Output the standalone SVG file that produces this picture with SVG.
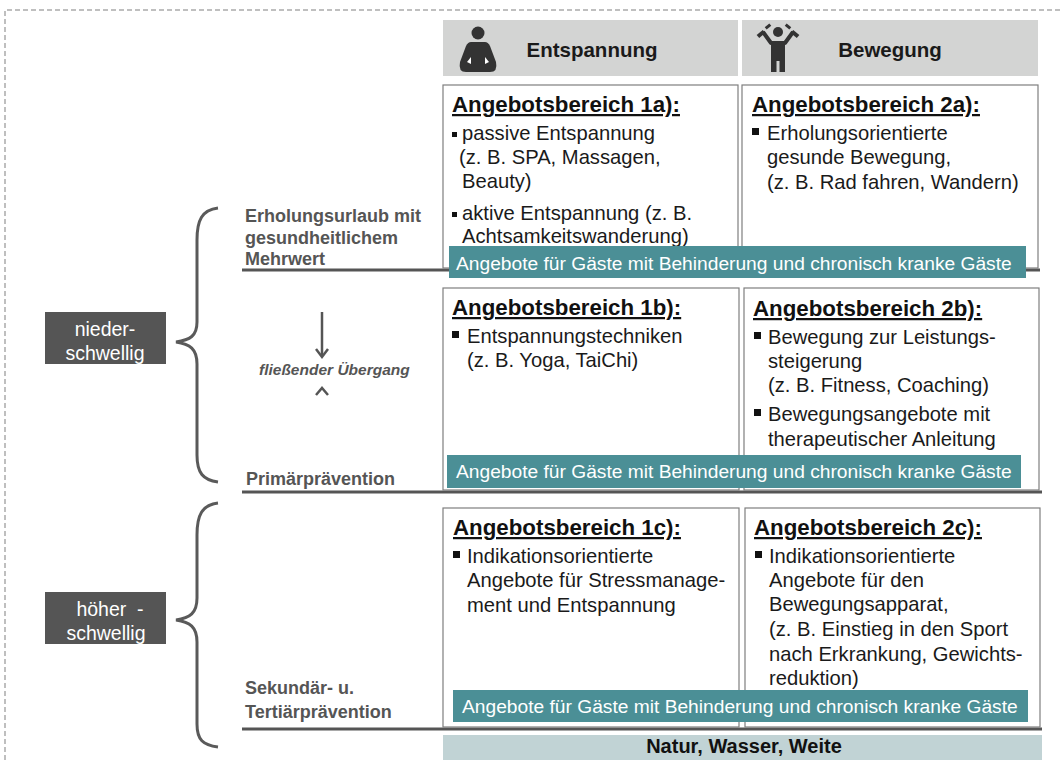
<svg xmlns="http://www.w3.org/2000/svg" width="1060" height="760" viewBox="0 0 1060 760">
<style>
text{font-family:"Liberation Sans",Arial,sans-serif}
.frame{fill:none;stroke:#aaa;stroke-width:1.5;stroke-dasharray:5 3}
.hdr{fill:#d3d4d3}
.hdrt{font-size:20.5px;font-weight:bold;fill:#1a1a1a;text-anchor:middle}
.box{fill:#fff;stroke:#7f7f7f;stroke-width:1.2}
.ttl{font-size:22.3px;font-weight:bold;fill:#111;text-decoration:underline}
.bt{font-size:20.2px;fill:#1a1a1a}
.bul{fill:#111}
.ban{fill:#4b8f96}
.bant{font-size:19.2px;fill:#fff}
.sep{stroke:#555;stroke-width:3;fill:none}
.brace{stroke:#5a5a5a;stroke-width:3;fill:none}
.lvl{fill:#555}
.lvlt{font-size:19.5px;fill:#fff;text-anchor:middle}
.lab{font-size:18px;font-weight:bold;fill:#555}
.flow{font-size:15.5px;font-weight:bold;font-style:italic;fill:#555}
.arr{stroke:#555;stroke-width:2.5;fill:none}
.ico{fill:#333}
.base{fill:#c1d3d5}
.baset{font-size:20px;font-weight:bold;fill:#111;text-anchor:middle}
</style>

<path class="frame" d="M5 760 L5 10 L1060 10"/>

<g id="connectors">
  <line class="sep" x1="242" y1="270" x2="1040" y2="270"/>
  <line class="sep" x1="242" y1="492" x2="1042" y2="492"/>
  <line class="sep" x1="242" y1="729" x2="1042" y2="729"/>
  <path class="brace" d="M218 208 C202 210 197 220 197 240 L197 322 C197 336 190 340 176 342 C190 344 197 349 197 364 L197 455 C197 473 203 480 218 482"/>
  <path class="brace" d="M218 503 C202 505 197 515 197 535 L197 598 C197 613 190 618 176 620 C190 622 197 627 197 642 L197 724 C197 740 203 745 218 747"/>
  <line class="arr" x1="322" y1="312" x2="322" y2="356"/>
  <polyline class="arr" points="316,349 322,357 328,349"/>
  <polyline class="arr" points="316,395 322,388 328,395"/>
</g>

<g id="header-entspannung">
  <rect class="hdr" x="443" y="20" width="295" height="56"/>
  <circle class="ico" cx="478" cy="33" r="6.5"/>
  <path class="ico" d="M471 42 L485 42 Q488 42 490 46 L496 62 Q498 72 490 72 L466 72 Q458 72 460 62 L466 46 Q468 42 471 42 Z"/>
  <path d="M467 62 L471 57 L471 64 Z" fill="#fff"/>
  <path d="M489 62 L485 57 L485 64 Z" fill="#fff"/>
  <text class="hdrt" x="592" y="57">Entspannung</text>
</g>

<g id="header-bewegung">
  <rect class="hdr" x="742" y="20" width="296" height="56"/>
  <circle class="ico" cx="778" cy="32" r="5"/>
  <polyline points="763,32 771,43 785,43 793,32" fill="none" stroke="#333" stroke-width="4" stroke-linejoin="round"/>
  <rect class="ico" x="771" y="41" width="14" height="20"/>
  <rect class="ico" x="771" y="58" width="5.5" height="14"/>
  <rect class="ico" x="779.5" y="58" width="5.5" height="14"/>
  <rect class="ico" x="757" y="32" width="8" height="4" transform="rotate(-40 761 34)"/>
  <rect class="ico" x="791" y="32" width="8" height="4" transform="rotate(40 795 34)"/>
  <rect class="ico" x="765" y="25" width="6" height="3" transform="rotate(-40 768 26.5)"/>
  <rect class="ico" x="785" y="25" width="6" height="3" transform="rotate(40 788 26.5)"/>
  <text class="hdrt" x="890" y="57">Bewegung</text>
</g>

<g id="box-1a">
  <rect class="box" x="443" y="85" width="295" height="183"/>
  <text class="ttl" x="452" y="112">Angebotsbereich 1a):</text>
  <rect class="bul" x="452" y="132" width="5" height="5"/>
  <text class="bt" x="462" y="140">passive Entspannung</text>
  <text class="bt" x="459" y="164">(z. B. SPA, Massagen,</text>
  <text class="bt" x="462" y="188">Beauty)</text>
  <rect class="bul" x="452" y="212" width="5" height="5"/>
  <text class="bt" x="462" y="220">aktive Entspannung (z. B.</text>
  <text class="bt" x="462" y="243">Achtsamkeitswanderung)</text>
</g>

<g id="box-2a">
  <rect class="box" x="742" y="85" width="296" height="183"/>
  <text class="ttl" x="752" y="112">Angebotsbereich 2a):</text>
  <rect class="bul" x="752" y="128" width="7" height="7"/>
  <text class="bt" x="767" y="140">Erholungsorientierte</text>
  <text class="bt" x="767" y="164">gesunde Bewegung,</text>
  <text class="bt" x="767" y="189">(z. B. Rad fahren, Wandern)</text>
</g>

<g id="banner-a">
  <rect class="ban" x="449" y="246" width="577" height="32"/>
  <text class="bant" x="456" y="270">Angebote für Gäste mit Behinderung und chronisch kranke Gäste</text>
</g>

<g id="box-1b">
  <rect class="box" x="443" y="288" width="296" height="202"/>
  <text class="ttl" x="452" y="315">Angebotsbereich 1b):</text>
  <rect class="bul" x="452" y="331" width="7" height="7"/>
  <text class="bt" x="467" y="343">Entspannungstechniken</text>
  <text class="bt" x="467" y="367">(z. B. Yoga, TaiChi)</text>
</g>

<g id="box-2b">
  <rect class="box" x="744" y="288" width="295" height="202"/>
  <text class="ttl" x="753" y="316">Angebotsbereich 2b):</text>
  <rect class="bul" x="754" y="332" width="7" height="7"/>
  <text class="bt" x="768" y="344">Bewegung zur Leistungs-</text>
  <text class="bt" x="768" y="368">steigerung</text>
  <text class="bt" x="768" y="392">(z. B. Fitness, Coaching)</text>
  <rect class="bul" x="754" y="409" width="7" height="7"/>
  <text class="bt" x="768" y="421">Bewegungsangebote mit</text>
  <text class="bt" x="768" y="446">therapeutischer Anleitung</text>
</g>

<g id="banner-b">
  <rect class="ban" x="447" y="455" width="574" height="33"/>
  <text class="bant" x="456" y="478">Angebote für Gäste mit Behinderung und chronisch kranke Gäste</text>
</g>

<g id="box-1c">
  <rect class="box" x="443" y="508" width="296" height="219"/>
  <text class="ttl" x="453" y="535">Angebotsbereich 1c):</text>
  <rect class="bul" x="453" y="551" width="7" height="7"/>
  <text class="bt" x="467" y="563">Indikationsorientierte</text>
  <text class="bt" x="467" y="587">Angebote für Stressmanage-</text>
  <text class="bt" x="467" y="612">ment und Entspannung</text>
</g>

<g id="box-2c">
  <rect class="box" x="745" y="508" width="295" height="219"/>
  <text class="ttl" x="754" y="535">Angebotsbereich 2c):</text>
  <rect class="bul" x="755" y="551" width="7" height="7"/>
  <text class="bt" x="769" y="563">Indikationsorientierte</text>
  <text class="bt" x="769" y="587">Angebote für den</text>
  <text class="bt" x="769" y="611">Bewegungsapparat,</text>
  <text class="bt" x="769" y="636">(z. B. Einstieg in den Sport</text>
  <text class="bt" x="769" y="661">nach Erkrankung, Gewichts-</text>
  <text class="bt" x="769" y="685">reduktion)</text>
</g>

<g id="banner-c">
  <rect class="ban" x="453" y="690" width="575" height="32"/>
  <text class="bant" x="462" y="713">Angebote für Gäste mit Behinderung und chronisch kranke Gäste</text>
</g>

<g id="base">
  <rect class="base" x="443" y="735" width="599" height="25"/>
  <text class="baset" x="744" y="753">Natur, Wasser, Weite</text>
</g>

<g id="level-nieder">
  <rect class="lvl" x="45" y="312" width="121" height="52"/>
  <text class="lvlt" x="105" y="336">nieder-</text>
  <text class="lvlt" x="105" y="360">schwellig</text>
</g>

<g id="level-hoeher">
  <rect class="lvl" x="45" y="592" width="121" height="52"/>
  <text class="lvlt" x="110" y="616" xml:space="preserve">höher  -</text>
  <text class="lvlt" x="106" y="640">schwellig</text>
</g>

<g id="label-erholung">
  <text class="lab" x="245" y="222">Erholungsurlaub mit</text>
  <text class="lab" x="245" y="244">gesundheitlichem</text>
  <text class="lab" x="245" y="265">Mehrwert</text>
</g>

<g id="label-flow">
  <text class="flow" x="259" y="375">fließender Übergang</text>
</g>

<g id="label-primaer">
  <text class="lab" x="246" y="485">Primärprävention</text>
</g>

<g id="label-sekundaer">
  <text class="lab" x="245" y="694">Sekundär- u.</text>
  <text class="lab" x="245" y="718">Tertiärprävention</text>
</g>
</svg>
